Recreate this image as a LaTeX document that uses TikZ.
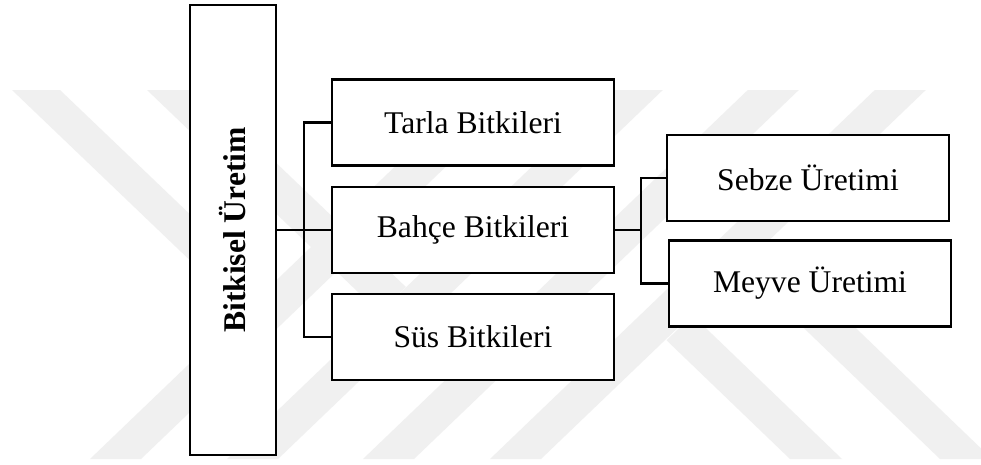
\documentclass[tikz,border=0pt]{standalone}
\usepackage{fontspec}
\setmainfont{Liberation Serif}
\begin{document}
\begin{tikzpicture}[x=1pt,y=-1pt,
  box/.style={draw=black,fill=white,line width=2.4pt,rectangle,inner sep=0pt,outer sep=0pt,
    minimum width=282pt,minimum height=86pt,font=\fontsize{31.6}{38}\selectfont},
  bigbox/.style={draw=black,fill=white,line width=2.4pt,rectangle,inner sep=0pt,outer sep=0pt,
    minimum width=86pt,minimum height=450pt},
  link/.style={draw=black,line width=2.4pt},
  wm/.style={fill=black!6,draw=none}]
\useasboundingbox (0,0) rectangle (981,464);
\fill[white] (0,0) rectangle (981,464);
% watermark bands
\begin{scope}
\clip (0,0) rectangle (981,464);
\foreach \b in {90,227,363,490}{
  \fill[wm] (\b,459) -- ({\b+51},459) -- ({\b+51+384.8},90) -- ({\b+384.8},90) -- cycle;
}
\fill[wm] (12,90) -- (60,90) -- (267.4,288.4) -- (243.4,311.5) -- cycle;
\fill[wm] (147,90) -- (200,90) -- (405.9,287) -- (379.4,312.5) -- cycle;
\fill[wm] (666.5,340.25) -- (692.5,315.25) -- (842,459) -- (790,459) -- cycle;
\fill[wm] (741.5,268.1) -- (767.5,243.1) -- (992,459) -- (940,459) -- cycle;
\end{scope}
% nodes
\node[bigbox] (root) at (233,230) {};
\node[rotate=90,font=\fontsize{31.6}{38}\selectfont\bfseries] (roottext) at (233,230) {Bitkisel Üretim};
\node[box] (tarla) at (473,122.5) {Tarla Bitkileri};
\node[box] (bahce) at (473,230) {Bahçe Bitkileri};
\node[box] (sus) at (473,337) {Süs Bitkileri};
\node[box] (sebze) at (808,178) {Sebze Üretimi};
\node[box] (meyve) at (810,283.5) {Meyve Üretimi};
\coordinate (j1) at (304,230);
\coordinate (j2) at (641,230);
% connectors
\draw[link] (root.east) -- (bahce.west);
\draw[link] (tarla.west) -| (j1) |- (sus.west);
\draw[link] (bahce.east) -- (j2);
\draw[link] (sebze.west) -| (j2) |- (meyve.west);
\end{tikzpicture}
\end{document}
